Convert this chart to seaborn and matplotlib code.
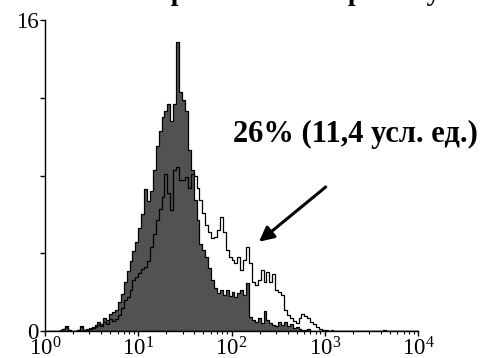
"""
Flow cytometry histogram: control (filled) vs stained (open) on a log scale.
"""

import numpy as np
import matplotlib as mpl
mpl.use("Agg")
import matplotlib.pyplot as plt
import seaborn as sns
from matplotlib.ticker import FixedLocator, FixedFormatter, LogLocator, NullFormatter

# Data: 128 channels over 4 decades (32 channels per decade)
per_decade = 32
n_decades = 4

control_counts = [
    0, 0, 0, 0, 0, 0.05, 0.1, 0.25, 0.05, 0, 0, 0.05, 0.25, 0.05, 0.05, 0.15,
    0.2, 0.3, 0.45, 0.35, 0.65, 0.55, 0.85, 1.0, 1.1, 1.5, 1.9, 2.5, 3.1, 3.6, 4.1, 4.6,
    5.3, 6.0, 7.3, 6.7, 7.2, 8.3, 9.5, 10.3, 11.0, 11.3, 11.7, 10.8, 11.7, 14.85, 12.3, 11.9,
    11.3, 9.3, 8.3, 6.75, 5.7, 4.5, 4.15, 3.8, 3.25, 2.6, 2.2, 1.95, 2.1, 1.85, 2.1, 1.8,
    2.0, 1.75, 1.95, 2.1, 1.85, 2.45, 0.7, 0.55, 0.45, 0.65, 0.4, 1.05, 0.55, 0.4, 0.3, 0.25,
    0.45, 0.3, 0.45, 0.25, 0.35, 0.15, 0.2, 0.1, 0.05, 0.05, 0.1, 0, 0, 0, 0, 0,
    0, 0, 0, 0, 0, 0, 0, 0, 0, 0, 0, 0, 0, 0, 0, 0,
    0, 0, 0, 0, 0, 0, 0, 0, 0, 0, 0, 0, 0, 0, 0, 0,
]

stained_counts = [
    0, 0, 0, 0, 0, 0.05, 0.1, 0.2, 0.05, 0, 0, 0.05, 0.2, 0.05, 0.1, 0.1,
    0.15, 0.2, 0.3, 0.25, 0.45, 0.35, 0.6, 0.5, 0.6, 0.8, 1.2, 1.6, 1.75, 2.1, 2.6, 2.8,
    3.0, 3.2, 3.3, 3.6, 4.3, 5.0, 5.7, 6.3, 6.9, 8.1, 7.1, 6.2, 8.3, 8.45, 7.75, 7.75,
    7.9, 7.35, 8.1, 8.0, 7.35, 6.75, 6.05, 5.45, 5.1, 4.8, 4.85, 5.2, 5.85, 5.1, 4.15, 3.8,
    3.65, 3.5, 3.8, 3.15, 3.65, 4.3, 3.5, 2.5, 2.35, 2.6, 3.15, 2.5, 3.05, 2.5, 2.95, 2.1,
    2.0, 1.85, 1.1, 0.8, 0.65, 0.5, 0.4, 0.65, 0.9, 0.75, 0.65, 0.45, 0.35, 0.2, 0.1, 0.05,
    0.05, 0, 0.05, 0, 0, 0, 0, 0, 0, 0, 0, 0, 0, 0, 0, 0,
    0, 0, 0, 0, 0.05, 0, 0, 0, 0, 0, 0, 0, 0, 0, 0, 0,
]

y_ticks = [0, 4, 8, 12, 16]
y_tick_labels = ["0", "", "", "", "16"]
annotation = "26% (11,4 усл. ед.)"
title = "Окрашивание через 1 сутки"

# Theme
sns.set_style("ticks")
plt.rcParams["font.family"] = ["Liberation Serif", "DejaVu Serif"]
plt.rcParams["mathtext.fontset"] = "custom"
plt.rcParams["mathtext.rm"] = "Liberation Serif"
plt.rcParams["mathtext.it"] = "Liberation Serif:italic"

fig = plt.figure(figsize=(4.86, 3.58), dpi=100)
ax = fig.add_axes([45 / 486, 27 / 358, 373 / 486, 311 / 358])

channels = np.arange(len(control_counts))
channel_centers = 10 ** ((channels + 0.5) / per_decade)

# Filled control histogram
sns.histplot(x=channel_centers, weights=control_counts, bins=per_decade * n_decades,
             binrange=(0, n_decades), log_scale=True, element="step", fill=True,
             color="#525252", edgecolor="black", linewidth=0.9, alpha=1, ax=ax, zorder=2)

# Open stained histogram
sns.histplot(x=channel_centers, weights=stained_counts, bins=per_decade * n_decades,
             binrange=(0, n_decades), log_scale=True, element="step", fill=False,
             color="black", linewidth=0.9, ax=ax, zorder=3)

ax.set_xlim(1, 10 ** n_decades)
ax.set_ylim(0, 16)
ax.set_xlabel("")
ax.set_ylabel("")

# Axes styling
sns.despine(ax=ax)
for side in ["left", "bottom"]:
    ax.spines[side].set_color("black")
    ax.spines[side].set_linewidth(1.0)

ax.yaxis.set_major_locator(FixedLocator(y_ticks))
ax.yaxis.set_major_formatter(FixedFormatter(y_tick_labels))
ax.xaxis.set_major_locator(LogLocator(base=10, numticks=10))
ax.xaxis.set_minor_locator(LogLocator(base=10, subs=np.arange(2, 10), numticks=20))
ax.xaxis.set_minor_formatter(NullFormatter())
ax.tick_params(axis="both", which="major", direction="out", length=3.5, width=1,
               color="black", labelsize=16.5, labelcolor="black", pad=1)
ax.tick_params(axis="x", which="minor", direction="out", length=2, width=0.8, color="black")

# Annotation with arrow
ax.annotate("", xy=(187, 4.5), xytext=(1080, 7.5),
            arrowprops=dict(arrowstyle="-|>", lw=2.2, color="black", mutation_scale=22))
ax.text(2150, 10.1, annotation, ha="center", va="center", fontsize=22,
        fontweight="bold", color="black")

# Cropped title at the very top
fig.text(1.0, 1.0, title, ha="right", va="baseline", fontsize=20,
         fontweight="bold", color="black")

fig.savefig("out.png", dpi=100)
